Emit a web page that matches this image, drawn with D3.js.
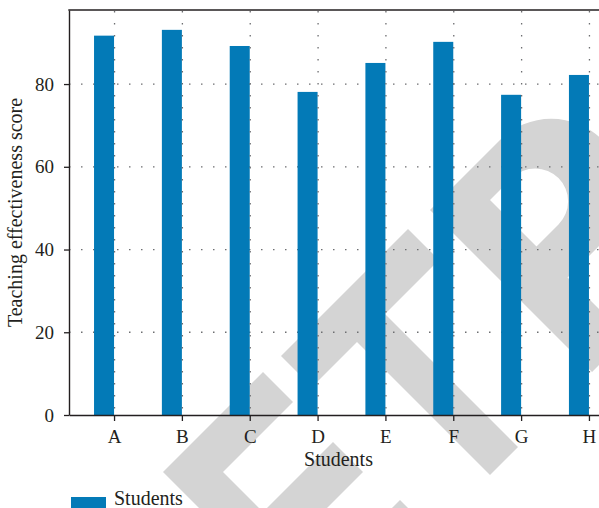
<!DOCTYPE html>
<html>
<head>
<meta charset="utf-8">
<script src="https://cdn.jsdelivr.net/npm/d3@7"></script>
<style>
  body { margin: 0; background: #fff; }
  svg { display: block; }
</style>
</head>
<body>
<svg id="chart" width="599" height="508"></svg>
<script>
// Chart data
const students = ["A", "B", "C", "D", "E", "F", "G", "H"];
const scores = [91.7, 93.1, 89.2, 78.1, 85.1, 90.2, 77.4, 82.2];
const yTicks = [0, 20, 40, 60, 80];
const seriesName = "Students";
const xTitle = "Students";
const yTitle = "Teaching effectiveness score";

// Layout and style
const W = 599, H = 508;
const plotL = 69, plotT = 10, plotB = 415, plotR = 634;
const ink = "#231f20";
const blue = "#037ab7";
const gridInk = "#6d6e71";
const font = "'Liberation Serif', 'DejaVu Serif', serif";

const svg = d3.select("#chart");

const x = d3.scalePoint().domain(students).range([plotL, plotR]).padding(0.664);
const y = d3.scaleLinear().domain([0, 97.9]).range([plotB, plotT]);
const barW = x.step() * 0.295;

// Background watermark, drawn in a 45-degree rotated frame
const wm = svg.append("g")
  .attr("transform", "matrix(0.5,-0.5,0.5,0.5,0,0)")
  .attr("fill", "#d4d4d4");
wm.append("path").attr("d", "M-109,635H-309V835H-109V775H-249V695H-109Z");
wm.append("path").attr("d", "M-75,637H179V699H71V965H15V699H-75Z");
wm.append("path")
  .attr("fill-rule", "evenodd")
  .attr("d", "M220,640H360A102.5,102.5 0 0 1 360,845H290V964H220Z" +
             "M290,690H334A46.5,46.5 0 0 1 334,783H290Z");
wm.append("path").attr("d", "M-160,900H-100V1000H-160Z");

// Horizontal dotted grid
svg.append("g").selectAll("line")
  .data(yTicks.filter(t => t > 0))
  .join("line")
  .attr("x1", plotL).attr("x2", W)
  .attr("y1", d => y(d)).attr("y2", d => y(d))
  .attr("stroke", gridInk)
  .attr("stroke-width", 1.3)
  .attr("stroke-dasharray", "1.5,10.5");

// Bars
svg.append("g").selectAll("rect")
  .data(students.map((s, i) => ({ s, v: scores[i] })))
  .join("rect")
  .attr("x", d => x(d.s) - barW)
  .attr("y", d => y(d.v))
  .attr("width", barW)
  .attr("height", d => y(0) - y(d.v))
  .attr("fill", blue);

// Vertical dotted grid
svg.append("g").selectAll("line")
  .data(students)
  .join("line")
  .attr("x1", d => x(d) + 0.5).attr("x2", d => x(d) + 0.5)
  .attr("y1", plotT + 1).attr("y2", plotB)
  .attr("stroke", gridInk)
  .attr("stroke-width", 1.3)
  .attr("stroke-dasharray", "1.5,10.5");

// Axes
const xAxis = svg.append("g")
  .attr("transform", `translate(0,${plotB})`)
  .call(d3.axisBottom(x).tickSize(6).tickSizeOuter(0).tickPadding(9));
const yAxis = svg.append("g")
  .attr("transform", `translate(${plotL},0)`)
  .call(d3.axisLeft(y).tickValues(yTicks).tickSize(5).tickSizeOuter(0).tickPadding(10));

[xAxis, yAxis].forEach(g => {
  g.select(".domain").attr("stroke", ink).attr("stroke-width", 1.4);
  g.selectAll(".tick line").attr("stroke", ink).attr("stroke-width", 1.3);
  g.selectAll(".tick text")
    .attr("fill", ink)
    .style("font-family", font)
    .style("font-size", "19px");
});

// Top frame line
svg.append("line")
  .attr("x1", plotL - 0.7).attr("x2", W)
  .attr("y1", plotT).attr("y2", plotT)
  .attr("stroke", ink).attr("stroke-width", 1.4);

// Axis titles
svg.append("text")
  .attr("x", 338.5).attr("y", 466)
  .attr("text-anchor", "middle")
  .attr("fill", ink)
  .style("font-family", font).style("font-size", "20px")
  .text(xTitle);

svg.append("text")
  .attr("transform", `translate(22,${(plotT + plotB) / 2}) rotate(-90)`)
  .attr("text-anchor", "middle")
  .attr("fill", ink)
  .style("font-family", font).style("font-size", "20px")
  .text(yTitle);

// Legend
const legend = svg.append("g");
legend.append("rect")
  .attr("x", 71).attr("y", 497)
  .attr("width", 35).attr("height", 12)
  .attr("fill", blue);
legend.append("text")
  .attr("x", 114).attr("y", 505)
  .attr("fill", ink)
  .style("font-family", font).style("font-size", "20px")
  .text(seriesName);
</script>
</body>
</html>
